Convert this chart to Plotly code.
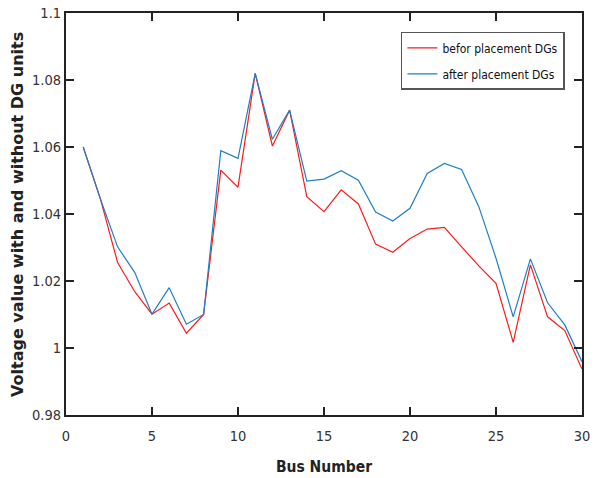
import plotly.graph_objects as go

bus = list(range(1, 31))
before_dg = [1.0600, 1.0445, 1.0255, 1.0168, 1.0101, 1.0134, 1.0044, 1.0100, 1.0531, 1.0480,
             1.0820, 1.0603, 1.0710, 1.0452, 1.0407, 1.0472, 1.0430, 1.0310, 1.0286, 1.0327,
             1.0355, 1.0360, 1.0302, 1.0245, 1.0193, 1.0017, 1.0248, 1.0093, 1.0052, 0.9937]
after_dg = [1.0600, 1.0445, 1.0302, 1.0225, 1.0101, 1.0180, 1.0071, 1.0100, 1.0589, 1.0566,
            1.0820, 1.0623, 1.0710, 1.0498, 1.0504, 1.0529, 1.0501, 1.0406, 1.0379, 1.0417,
            1.0521, 1.0551, 1.0533, 1.0422, 1.0268, 1.0093, 1.0266, 1.0135, 1.0069, 0.9959]
x_ticks = [0, 5, 10, 15, 20, 25, 30]
y_ticks = [0.98, 1.0, 1.02, 1.04, 1.06, 1.08, 1.1]
y_tick_text = ["0.98", "1", "1.02", "1.04", "1.06", "1.08", "1.1"]

narrow = "Liberation Sans Narrow, DejaVu Sans Condensed, Arial Narrow, Liberation Sans, sans-serif"

fig = go.Figure()
fig.add_trace(go.Scatter(x=bus, y=before_dg, mode="lines", name="befor placement DGs",
                         line=dict(color="#ff1a1a", width=1.2), legendgroup="a"))
fig.add_trace(go.Scatter(x=bus, y=after_dg, mode="lines", name="after placement DGs",
                         line=dict(color="#1f7fc4", width=1.2), legendgroup="b"))

tickfont = dict(family=narrow, size=14.5, color="#333333")
fig.update_layout(
    width=599, height=478,
    margin=dict(l=66, r=17, t=13, b=63),
    paper_bgcolor="white", plot_bgcolor="white",
    showlegend=True,
    legend=dict(x=0.649, y=0.953, xanchor="left", yanchor="top",
                bgcolor="white", bordercolor="#555555", borderwidth=1.5,
                font=dict(family=narrow, size=12, color="#111111"),
                traceorder="grouped", tracegroupgap=7),
    xaxis=dict(range=[0, 30], tickvals=x_ticks, ticks="inside", ticklen=8, tickwidth=1.5,
               tickcolor="#222222", showline=True, linecolor="#222222", linewidth=2,
               mirror="ticks", showgrid=False, zeroline=False, tickfont=tickfont, automargin=False,
               ticklabelstandoff=7,
               title=dict(text="<b>Bus Number</b>", standoff=18,
                          font=dict(family=narrow, size=15.5, color="#222222"))),
    yaxis=dict(range=[0.98, 1.1], tickvals=y_ticks, ticktext=y_tick_text, ticks="inside", ticklen=8,
               tickwidth=1.5, tickcolor="#222222", showline=True, linecolor="#222222", linewidth=2,
               mirror="ticks", showgrid=False, zeroline=False, tickfont=tickfont, automargin=False,
               ticklabelstandoff=0),
    annotations=[dict(text="<b>Voltage value with and without DG units</b>", textangle=-90,
                      xref="paper", yref="paper", x=-0.095, y=0.5, xanchor="center", yanchor="middle",
                      showarrow=False,
                      font=dict(family="DejaVu Sans, Verdana, sans-serif", size=16, color="#222222"))],
)

fig.write_html("out.html", config={"displayModeBar": False},
               post_script="document.body.style.margin='0';")
